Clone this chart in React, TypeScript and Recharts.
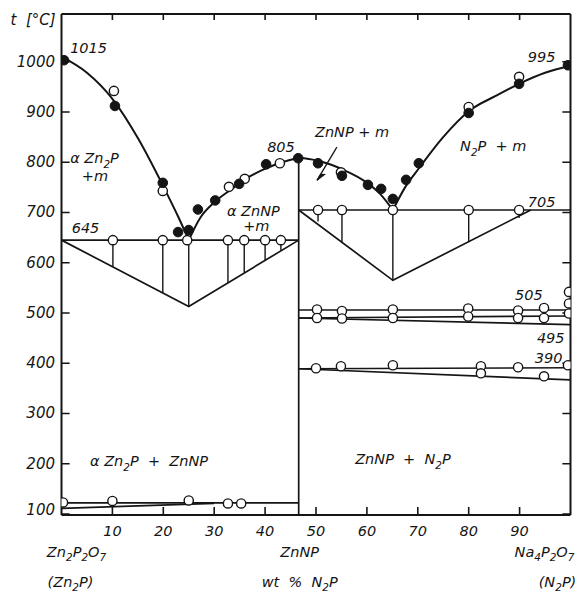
import { ComposedChart, Line, Scatter, XAxis, YAxis, ReferenceDot } from "recharts";

const ink = "#151515";
const font = "'DejaVu Sans', sans-serif";

const xTicks = [10, 20, 30, 40, 50, 60, 70, 80, 90];
const tTicks = [100, 200, 300, 400, 500, 600, 700, 800, 900, 1000];
const X_DOMAIN = [0, 100];
const T_DOMAIN = [98, 1095];
const ZNNP = 46.6;

// liquidus branches
const liqZn2P = [
  { x: 0, t: 1010 }, { x: 5, t: 978 }, { x: 10, t: 926 }, { x: 15, t: 848 },
  { x: 20, t: 752 }, { x: 23, t: 690 }, { x: 25, t: 645 },
];
const liqZnNPLeft = [
  { x: 25, t: 645 }, { x: 27.3, t: 690 }, { x: 30, t: 720 }, { x: 33.9, t: 750 },
  { x: 36, t: 766 }, { x: 40.5, t: 789 }, { x: 43, t: 799 }, { x: ZNNP, t: 809 },
];
const liqZnNPRight = [
  { x: ZNNP, t: 809 }, { x: 50, t: 804 }, { x: 53, t: 795 }, { x: 56, t: 782 },
  { x: 59.6, t: 762 }, { x: 62.5, t: 738 }, { x: 65.1, t: 705 },
];
const liqN2P = [
  { x: 65.1, t: 705 }, { x: 67.5, t: 750 }, { x: 70.3, t: 789 }, { x: 74.9, t: 849 },
  { x: 80.2, t: 903 }, { x: 85.3, t: 932 }, { x: 90.3, t: 958 }, { x: 95, t: 978 }, { x: 100, t: 992 },
];

// straight lines: eutectics, tammann triangles, transitions
const straight = [
  [{ x: 0, t: 645 }, { x: ZNNP, t: 645 }],
  [{ x: 0, t: 645 }, { x: 25, t: 513 }, { x: ZNNP, t: 645 }],
  [{ x: ZNNP, t: 705 }, { x: 100, t: 705 }],
  [{ x: ZNNP, t: 705 }, { x: 65.1, t: 565 }, { x: 92.2, t: 705 }],
  [{ x: ZNNP, t: 98 }, { x: ZNNP, t: 809 }],
  [{ x: ZNNP, t: 506 }, { x: 100, t: 506 }],
  [{ x: ZNNP, t: 490 }, { x: 100, t: 494 }],
  [{ x: ZNNP, t: 490 }, { x: 100, t: 477 }],
  [{ x: ZNNP, t: 389 }, { x: 100, t: 391 }],
  [{ x: ZNNP, t: 389 }, { x: 100, t: 367 }],
  [{ x: 0, t: 122 }, { x: ZNNP, t: 122 }],
  [{ x: 0, t: 111 }, { x: 30, t: 121 }],
];

// tie lines under the eutectics
const ties = [
  { x: 10.1, top: 645, bottom: 592 },
  { x: 19.9, top: 645, bottom: 540 },
  { x: 25, top: 645, bottom: 513 },
  { x: 32.7, top: 645, bottom: 560 },
  { x: 35.9, top: 645, bottom: 580 },
  { x: 40.0, top: 645, bottom: 605 },
  { x: 43.1, top: 645, bottom: 625 },
  { x: 50.4, top: 705, bottom: 682 },
  { x: 55.1, top: 705, bottom: 641 },
  { x: 65.1, top: 705, bottom: 565 },
  { x: 80.0, top: 705, bottom: 642 },
  { x: 89.9, top: 705, bottom: 689 },
];

const openPts = [
  { x: 10.3, t: 942 }, { x: 19.9, t: 743 }, { x: 32.9, t: 751 }, { x: 36.0, t: 767 },
  { x: 42.9, t: 798 }, { x: 54.9, t: 780 }, { x: 80.0, t: 910 }, { x: 89.9, t: 970 },
  { x: 10.1, t: 645 }, { x: 19.9, t: 645 }, { x: 24.7, t: 645 }, { x: 32.7, t: 645 },
  { x: 35.9, t: 645 }, { x: 40.0, t: 645 }, { x: 43.1, t: 645 },
  { x: 50.4, t: 705 }, { x: 55.1, t: 705 }, { x: 65.1, t: 705 }, { x: 80.0, t: 705 }, { x: 89.9, t: 705 },
  { x: 50.2, t: 507 }, { x: 50.2, t: 490 }, { x: 55.1, t: 504 }, { x: 55.1, t: 489 },
  { x: 65.1, t: 507 }, { x: 65.1, t: 490 }, { x: 79.9, t: 509 }, { x: 79.9, t: 493 },
  { x: 89.7, t: 505 }, { x: 89.7, t: 490 }, { x: 94.8, t: 510 }, { x: 94.8, t: 490 },
  { x: 99.7, t: 542 }, { x: 99.7, t: 519 }, { x: 99.7, t: 499 },
  { x: 50.0, t: 390 }, { x: 54.9, t: 394 }, { x: 65.1, t: 396 }, { x: 82.4, t: 394 },
  { x: 82.4, t: 380 }, { x: 89.7, t: 392 }, { x: 94.8, t: 374 }, { x: 99.5, t: 396 },
  { x: 0.3, t: 123 }, { x: 10, t: 126 }, { x: 25, t: 127 }, { x: 32.7, t: 121 }, { x: 35.3, t: 121 },
];

const filledPts = [
  { x: 0.5, t: 1003 }, { x: 10.5, t: 912 }, { x: 19.9, t: 759 }, { x: 22.9, t: 661 },
  { x: 25.0, t: 665 }, { x: 26.8, t: 706 }, { x: 30.2, t: 724 }, { x: 34.9, t: 757 },
  { x: 40.2, t: 796 }, { x: 46.5, t: 808 }, { x: 50.4, t: 798 }, { x: 55.1, t: 773 },
  { x: 60.2, t: 755 }, { x: 62.8, t: 747 }, { x: 65.1, t: 727 }, { x: 67.7, t: 765 },
  { x: 70.2, t: 798 }, { x: 80.0, t: 898 }, { x: 89.9, t: 956 }, { x: 99.5, t: 993 },
];

const notes = [
  { x: 1.7, t: 1017, text: "1015" },
  { x: 91.6, t: 999, text: "995" },
  { x: 40.4, t: 820, text: "805" },
  { x: 2.0, t: 659, text: "645" },
  { x: 91.6, t: 711, text: "705" },
  { x: 89.1, t: 526, text: "505" },
  { x: 93.4, t: 440, text: "495" },
  { x: 93.0, t: 400, text: "390" },
  { x: 1.7, t: 798, text: "α Zn_2P" },
  { x: 4.0, t: 762, text: "+m" },
  { x: 32.5, t: 693, text: "α ZnNP" },
  { x: 35.7, t: 663, text: "+m" },
  { x: 49.8, t: 850, text: "ZnNP + m" },
  { x: 78.3, t: 822, text: "N_2P  + m" },
  { x: 5.6, t: 195, text: "α Zn_2P  +  ZnNP" },
  { x: 57.7, t: 199, text: "ZnNP  +  N_2P" },
];

const arrow = [{ x: 54.1, t: 830 }, { x: 50.2, t: 764 }];

const compLabels = [
  { x: 0, top: "Zn_2P_2O_7", bottom: "(Zn_2P)" },
  { x: ZNNP, top: "ZnNP", bottom: "wt  %  N_2P" },
  { x: 100, top: "Na_4P_2O_7", bottom: "(N_2P)" },
];

// inward tick marks, built from the tick arrays (length given in axis units)
const tickX = 1.6; // ~8px along x
const tickT = 16; // ~8px along t
const tickMarks = [
  ...xTicks.map((v) => [{ x: v, t: T_DOMAIN[0] }, { x: v, t: T_DOMAIN[0] + tickT }]),
  ...xTicks.map((v) => [{ x: v, t: T_DOMAIN[1] }, { x: v, t: T_DOMAIN[1] - tickT * 0.75 }]),
  ...tTicks.map((v) => [{ x: X_DOMAIN[0], t: v }, { x: X_DOMAIN[0] + tickX, t: v }]),
  ...tTicks.map((v) => [{ x: X_DOMAIN[1] - tickX, t: v }, { x: X_DOMAIN[1], t: v }]),
];

function Rich({ x, y, text, size = 14.5, anchor = "start" }: any) {
  const parts = text.split(/(_\d)/).filter((p: string) => p !== "");
  const sh = size * 0.3;
  return (
    <text x={x} y={y} fontSize={size} fontStyle="italic" fontFamily={font} fill={ink}
      textAnchor={anchor} style={{ whiteSpace: "pre" }}>
      {parts.map((p: string, i: number) => {
        const sub = p.startsWith("_");
        const prevSub = i > 0 && parts[i - 1].startsWith("_");
        if (sub) return <tspan key={i} dy={sh} fontSize={size * 0.72}>{p.slice(1)}</tspan>;
        return <tspan key={i} dy={prevSub ? -sh : 0}>{p}</tspan>;
      })}
    </text>
  );
}

const openDot = (p: any) => <circle cx={p.cx} cy={p.cy} r={4.6} fill="#fff" stroke={ink} strokeWidth={1.4} />;
const fullDot = (p: any) => <circle cx={p.cx} cy={p.cy} r={4.8} fill={ink} stroke={ink} strokeWidth={1} />;

const arrowHead = (p: any) => {
  if (p.index !== 1) return <g key={p.key} />;
  const pts = p.points || [];
  let ang = 121;
  if (pts.length === 2) ang = (Math.atan2(pts[1].y - pts[0].y, pts[1].x - pts[0].x) * 180) / Math.PI;
  return (
    <path key={p.key} d="M0,0 L-9,-3.5 L-7,0 Z" fill={ink} stroke={ink} strokeWidth={1}
      transform={`translate(${p.cx},${p.cy}) rotate(${ang})`} />
  );
};

const leftTick = ({ x, y, payload }: any) => (
  <text x={x - 6.5} y={y + 5 - (payload.value === 100 ? 4 : 0)} textAnchor="end" fontSize={15}
    fontStyle="italic" fontFamily={font} fill={ink}>{payload.value}</text>
);
const bottomTick = ({ x, y, payload }: any) => (
  <text x={x} y={y + 21} textAnchor="middle" fontSize={14.5} fontStyle="italic"
    fontFamily={font} fill={ink}>{payload.value}</text>
);
const compTick = ({ x, y, payload }: any) => {
  const c = compLabels.find((d) => d.x === payload.value);
  if (!c) return <g />;
  const off1 = c.x === 0 ? 15 : c.x === 100 ? -26 : 1;
  const off2 = c.x === 0 ? 9 : c.x === 100 ? -13 : 1;
  return (
    <g>
      <Rich x={x + off1} y={y + 20} text={c.top} anchor="middle" />
      <Rich x={x + off2} y={y + 50} text={c.bottom} anchor="middle" />
    </g>
  );
};

const axisLine = { stroke: ink, strokeWidth: 2 };

export default function App() {
  return (
    <div style={{ position: "absolute", left: 0, top: 0, width: 581, height: 592, background: "#fff" }}>
      <ComposedChart width={581} height={592} margin={{ top: 13, right: 0.5, bottom: 0, left: 6.5 }}>
        <XAxis xAxisId={0} dataKey="x" type="number" domain={X_DOMAIN} ticks={xTicks} interval={0}
          allowDataOverflow height={22} tickSize={0} tickMargin={0}
          axisLine={axisLine} tickLine={false} tick={bottomTick} />
        <XAxis xAxisId="cmp" dataKey="x" type="number" domain={X_DOMAIN} ticks={compLabels.map((d) => d.x)}
          allowDataOverflow height={55} tickSize={0} tickMargin={0}
          axisLine={false} tickLine={false} tick={compTick} interval={0} />
        <XAxis xAxisId="top" orientation="top" dataKey="x" type="number" domain={X_DOMAIN} ticks={xTicks}
          interval={0} allowDataOverflow height={1} tickSize={0} tick={false}
          axisLine={axisLine} tickLine={false} />
        <YAxis yAxisId={0} type="number" domain={T_DOMAIN} ticks={tTicks} allowDataOverflow interval={0}
          width={55} tickSize={0} tickMargin={0} axisLine={axisLine} tickLine={false} tick={leftTick}
          label={{
            content: ({ viewBox }: any) => (
              <text x={(viewBox?.x ?? 6.5) + 4} y={(viewBox?.y ?? 14) + 11} fontSize={15} fontStyle="italic"
                fontFamily={font} fill={ink} style={{ whiteSpace: "pre" }}>t  [°C]</text>
            ),
          }} />
        <YAxis yAxisId="r" orientation="right" type="number" domain={T_DOMAIN} ticks={tTicks} interval={0}
          allowDataOverflow width={10} tickSize={0} tick={false} axisLine={axisLine} tickLine={false} />

        {tickMarks.map((seg, i) => (
          <Line key={`tk${i}`} data={seg} dataKey="t" type="linear" stroke={ink} strokeWidth={1.6}
            dot={false} activeDot={false} isAnimationActive={false} />
        ))}
        {straight.map((seg, i) => (
          <Line key={`s${i}`} data={seg} dataKey="t" type="linear" stroke={ink} strokeWidth={1.7}
            dot={false} activeDot={false} isAnimationActive={false} />
        ))}
        {ties.map((d, i) => (
          <Line key={`tie${i}`} data={[{ x: d.x, t: d.top }, { x: d.x, t: d.bottom }]} dataKey="t"
            type="linear" stroke={ink} strokeWidth={1.4} dot={false} activeDot={false} isAnimationActive={false} />
        ))}
        {[liqZn2P, liqZnNPLeft, liqZnNPRight, liqN2P].map((c, i) => (
          <Line key={`liq${i}`} data={c} dataKey="t" type="monotone" stroke={ink} strokeWidth={2}
            dot={false} activeDot={false} isAnimationActive={false} />
        ))}
        <Line data={arrow} dataKey="t" type="linear" stroke={ink} strokeWidth={1.3}
          dot={arrowHead} activeDot={false} isAnimationActive={false} />

        <Scatter data={openPts} dataKey="t" shape={openDot} isAnimationActive={false} />
        <Scatter data={filledPts} dataKey="t" shape={fullDot} isAnimationActive={false} />

        {notes.map((n, i) => (
          <ReferenceDot key={`n${i}`} x={n.x} y={n.t} r={0} ifOverflow="visible"
            shape={(p: any) => <Rich x={p.cx} y={p.cy} text={n.text} />} />
        ))}
      </ComposedChart>
    </div>
  );
}
